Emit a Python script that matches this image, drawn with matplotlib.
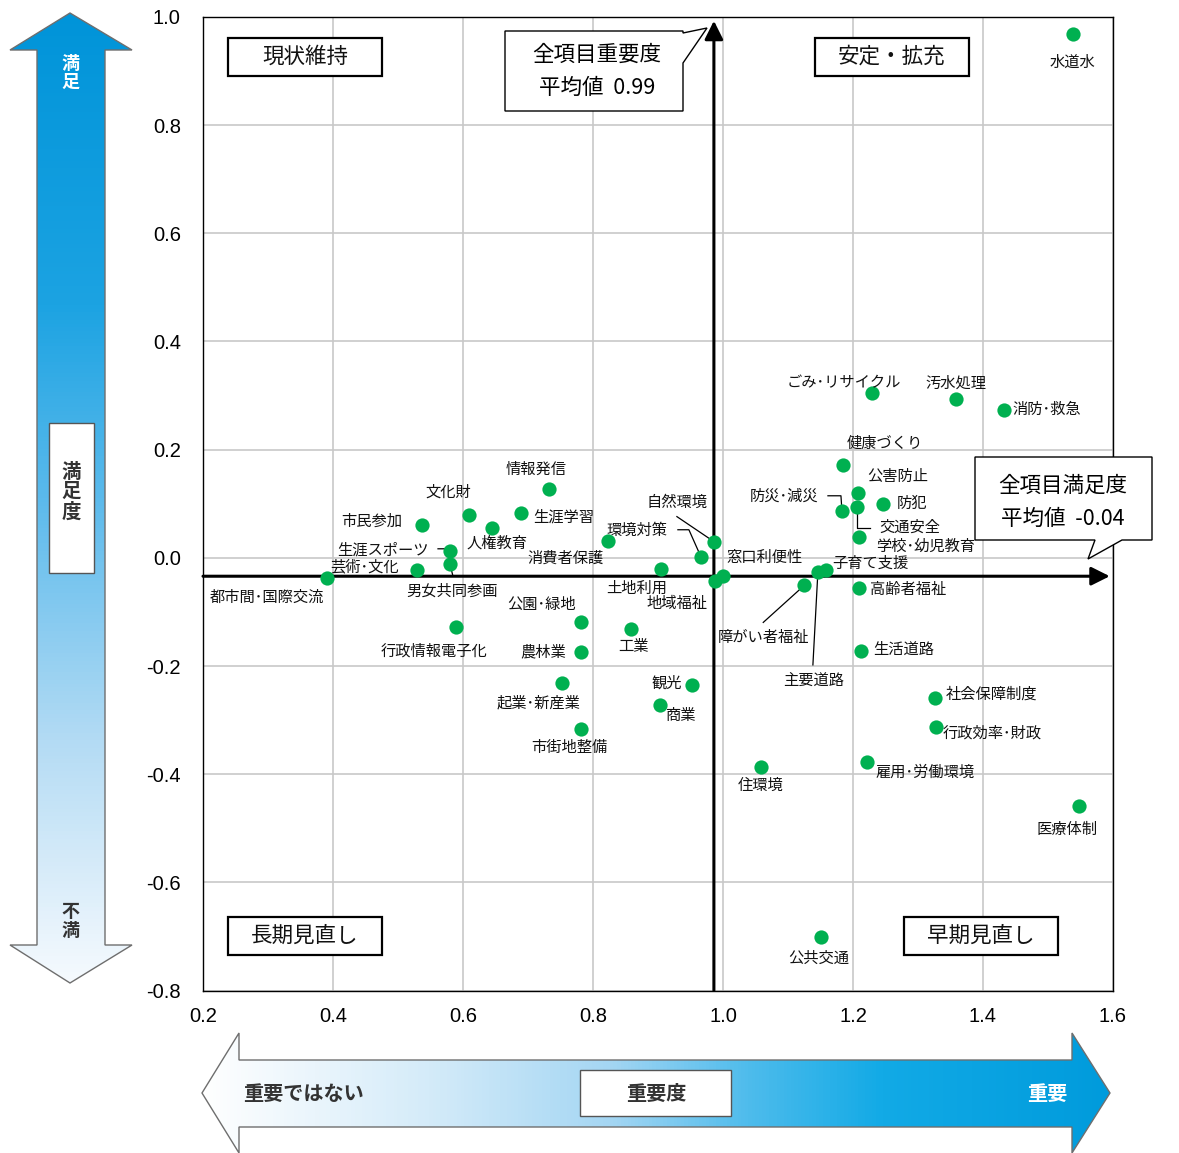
import numpy as np
import matplotlib.pyplot as plt
from matplotlib.patches import Polygon, Rectangle
from matplotlib.colors import LinearSegmentedColormap

plt.rcParams['font.family'] = ['Noto Sans CJK JP', 'DejaVu Sans']

# data: importance (x) and satisfaction (y) per item
names = ['水道水', 'ごみ･リサイクル', '汚水処理', '消防･救急', '健康づくり', '公害防止', '防犯',
         '防災･減災', '交通安全', '学校･幼児教育', '窓口利便性', '子育て支援', '主要道路',
         '障がい者福祉', '高齢者福祉', '生活道路', '自然環境', '環境対策', '土地利用', '地域福祉',
         '工業', '消費者保護', '情報発信', '文化財', '生涯学習', '人権教育', '市民参加',
         '生涯スポーツ', '男女共同参画', '芸術･文化', '都市間･国際交流', '公園･緑地',
         '行政情報電子化', '農林業', '観光', '商業', '起業･新産業', '市街地整備', '住環境',
         '雇用･労働環境', '社会保障制度', '行政効率･財政', '医療体制', '公共交通']
importance = [1.538, 1.229, 1.358, 1.433, 1.185, 1.208, 1.246, 1.183, 1.206, 1.210, 1.000,
              1.158, 1.146, 1.125, 1.209, 1.212, 0.986, 0.966, 0.904, 0.988, 0.858, 0.823,
              0.733, 0.609, 0.690, 0.645, 0.537, 0.580, 0.580, 0.529, 0.390, 0.781, 0.589,
              0.782, 0.952, 0.903, 0.752, 0.781, 1.059, 1.221, 1.326, 1.328, 1.548, 1.151]
satisfaction = [0.969, 0.304, 0.293, 0.274, 0.172, 0.119, 0.100, 0.087, 0.094, 0.038, -0.033,
                -0.023, -0.026, -0.051, -0.055, -0.172, 0.030, 0.002, -0.020, -0.042, -0.132,
                0.031, 0.127, 0.079, 0.083, 0.055, 0.060, 0.013, -0.012, -0.022, -0.037,
                -0.119, -0.127, -0.175, -0.236, -0.273, -0.231, -0.316, -0.387, -0.378,
                -0.260, -0.313, -0.459, -0.701]
mean_imp, mean_imp_label = 0.986, '0.99'
mean_sat, mean_sat_label = -0.034, '-0.04'
xticks = [0.2, 0.4, 0.6, 0.8, 1.0, 1.2, 1.4, 1.6]
yticks = [-0.8, -0.6, -0.4, -0.2, 0.0, 0.2, 0.4, 0.6, 0.8, 1.0]

# label placement: (dx, dy) pixels from the point (dy downwards), alignment
label_pos = {
    '水道水': (0, 29, 'center'), 'ごみ･リサイクル': (-28, -11, 'center'),
    '汚水処理': (0, -16, 'center'), '消防･救急': (8, 0, 'left'),
    '健康づくり': (42, -21, 'center'), '公害防止': (40, -17, 'center'),
    '防犯': (14, 0, 'left'), '防災･減災': (-24, -15, 'right'),
    '交通安全': (22, 20, 'left'), '学校･幼児教育': (66, 9, 'center'),
    '窓口利便性': (42, -18, 'center'), '子育て支援': (45, -7, 'center'),
    '主要道路': (-4, 108, 'center'), '障がい者福祉': (-41, 52, 'center'),
    '高齢者福祉': (11, 2, 'left'), '生活道路': (12, -2, 'left'),
    '自然環境': (-37, -39, 'center'), '環境対策': (-64, -26, 'center'),
    '土地利用': (-24, 20, 'center'), '地域福祉': (-38, 23, 'center'),
    '工業': (3, 17, 'center'), '消費者保護': (-42, 17, 'center'),
    '情報発信': (-13, -20, 'center'), '文化財': (-21, -23, 'center'),
    '生涯学習': (12, 4, 'left'), '人権教育': (5, 15, 'center'),
    '市民参加': (-20, -4, 'right'), '生涯スポーツ': (-21, -1, 'right'),
    '男女共同参画': (2, 27, 'center'), '芸術･文化': (-18, -3, 'right'),
    '都市間･国際交流': (-60, 19, 'center'), '公園･緑地': (-39, -18, 'center'),
    '行政情報電子化': (-22, 25, 'center'), '農林業': (-15, -1, 'right'),
    '観光': (-25, -2, 'center'), '商業': (21, 10, 'center'),
    '起業･新産業': (-23, 20, 'center'), '市街地整備': (-11, 19, 'center'),
    '住環境': (-1, 18, 'center'), '雇用･労働環境': (9, 10, 'left'),
    '社会保障制度': (11, -4, 'left'), '行政効率･財政': (6, 6, 'left'),
    '医療体制': (-12, 23, 'center'), '公共交通': (-2, 21, 'center'),
}
# leader lines: pixel offsets from the point (dy downwards)
leaders = {
    '防災･減災': [(-14, -15), (-1, -15), (0, 0)],
    '交通安全': [(0, 0), (0, 21), (13, 21)],
    '生涯スポーツ': [(-12, -2), (-2, -2), (0, 0)],
    '男女共同参画': [(0, 0), (3, 12)],
    '自然環境': [(-37, -25), (0, 0)],
    '環境対策': [(-23, -27), (-12, -27), (0, 0)],
    '障がい者福祉': [(-41, 37), (0, 0)],
    '主要道路': [(0, 0), (-5, 93)],
}

W, H = 1179, 1153
fig = plt.figure(figsize=(W / 100, H / 100), dpi=100)
ax = fig.add_axes([203 / W, 1 - 990.5 / H, 910 / W, (990.5 - 17) / H])
ax.set_xlim(0.2, 1.6)
ax.set_ylim(-0.8, 1.0)
ax.set_xticks(xticks)
ax.set_xticklabels([f'{v:.1f}' for v in xticks], fontfamily='Liberation Sans', fontsize=14.5)
ax.set_yticks(yticks)
ax.set_yticklabels([f'{v:.1f}' for v in yticks], fontfamily='Liberation Sans', fontsize=14.5)
ax.tick_params(axis='x', length=0, pad=12)
ax.tick_params(axis='y', length=0, pad=16)
ax.grid(color='#c8c8c8', lw=1.2, zorder=0)
ax.set_axisbelow(True)
for s in ax.spines.values():
    s.set_color('black')
    s.set_linewidth(1.0)

# mean arrows
ax.annotate('', xy=(1.595, mean_sat), xytext=(0.2, mean_sat),
            arrowprops=dict(arrowstyle='-|>', lw=2.2, color='black', mutation_scale=28,
                            shrinkA=0, shrinkB=0), zorder=2)
ax.annotate('', xy=(mean_imp, 0.993), xytext=(mean_imp, -0.8),
            arrowprops=dict(arrowstyle='-|>', lw=2.2, color='black', mutation_scale=28,
                            shrinkA=0, shrinkB=0), zorder=2)

ax.scatter(importance, satisfaction, s=105, color='#00b050', zorder=4, linewidths=0)

for n, x, y in zip(names, importance, satisfaction):
    dx, dy, ha = label_pos[n]
    ax.annotate(n, (x, y), xytext=(dx, -dy), textcoords='offset pixels',
                ha=ha, va='center', fontsize=11, color='#111111', zorder=5)

inv = ax.transData.inverted()
for n, pts in leaders.items():
    i = names.index(n)
    px, py = ax.transData.transform((importance[i], satisfaction[i]))
    xy = inv.transform([(px + dx, py - dy) for dx, dy in pts])
    ax.plot(xy[:, 0], xy[:, 1], color='black', lw=0.9, zorder=3)

# overlay in pixel coordinates for the decorations
ov = fig.add_axes([0, 0, 1, 1], zorder=5)
ov.set_xlim(0, W)
ov.set_ylim(H, 0)
ov.axis('off')
ov.patch.set_alpha(0)

# left vertical gradient arrow
cm_v = LinearSegmentedColormap.from_list('v', [(0, '#0094d9'), (0.3, '#1ca3e2'), (0.5, '#5bbaec'),
                                                (0.75, '#b3dbf4'), (1, '#f6fafe')])
varrow = Polygon([(70, 13), (132, 50), (105, 50), (105, 945), (132, 945), (70, 983),
                  (10, 945), (37, 945), (37, 50), (10, 50)], closed=True,
                 facecolor='none', edgecolor='#6e6e6e', lw=1.0, zorder=3)
ov.add_patch(varrow)
im = ov.imshow(cm_v(np.linspace(0, 1, 256))[:, None, :3], extent=[10, 132, 983, 13],
               aspect='auto', zorder=2)
im.set_clip_path(varrow)
ov.text(70, 73, '満\n足', ha='center', va='center', fontsize=13, color='white',
        fontweight='bold', linespacing=1.0)
ov.add_patch(Rectangle((49, 423), 45, 150, facecolor='white', edgecolor='#555555', lw=1.0, zorder=3))
ov.text(71.5, 492, '満\n足\n度', ha='center', va='center', fontsize=14, color='#333333',
        fontweight='bold', linespacing=1.05, zorder=4)
ov.text(70, 921, '不\n満', ha='center', va='center', fontsize=13, color='#333333',
        fontweight='bold', linespacing=1.0)

# bottom horizontal gradient arrow
cm_h = LinearSegmentedColormap.from_list('h', [(0, '#ffffff'), (0.25, '#d4ebf9'), (0.45, '#a4d6f3'),
                                                (0.6, '#4fbcec'), (0.75, '#12aae6'), (1, '#009bdc')])
harrow = Polygon([(202, 1093), (239, 1033), (239, 1060), (1072, 1060), (1072, 1033),
                  (1110, 1093), (1072, 1153), (1072, 1127), (239, 1127), (239, 1153)],
                 closed=True, facecolor='none', edgecolor='#6e6e6e', lw=1.0, zorder=3)
ov.add_patch(harrow)
im2 = ov.imshow(cm_h(np.linspace(0, 1, 256))[None, :, :3], extent=[202, 1110, 1153, 1033],
                aspect='auto', zorder=2)
im2.set_clip_path(harrow)
ov.text(303, 1093, '重要ではない', ha='center', va='center', fontsize=14.5, color='#333333',
        fontweight='bold')
ov.add_patch(Rectangle((580, 1070), 151, 46, facecolor='white', edgecolor='#555555', lw=1.0, zorder=3))
ov.text(656, 1093, '重要度', ha='center', va='center', fontsize=14.5, color='#333333',
        fontweight='bold', zorder=4)
ov.text(1047, 1093, '重要', ha='center', va='center', fontsize=14.5, color='white',
        fontweight='bold')

ov.set_xlim(0, W)
ov.set_ylim(H, 0)

# quadrant labels
for cx, cy, t in [(305, 57, '現状維持'), (892, 57, '安定・拡充'),
                  (305, 936, '長期見直し'), (981, 936, '早期見直し')]:
    ov.add_patch(Rectangle((cx - 77, cy - 19), 154, 38, facecolor='white',
                           edgecolor='black', lw=1.6, zorder=3))
    ov.text(cx, cy, t, ha='center', va='center', fontsize=15.5, color='#111111', zorder=4)

# callouts for the averages
ov.add_patch(Polygon([(505, 31), (683, 31), (683, 33), (707, 28), (683, 63), (683, 111),
                      (505, 111)], closed=True, facecolor='white', edgecolor='black',
                     lw=1.0, zorder=3))
ov.text(597, 55, '全項目重要度', ha='center', va='center', fontsize=15.5, zorder=4)
ov.text(597, 88, f'平均値  {mean_imp_label}', ha='center', va='center', fontsize=15.5, zorder=4)

ov.add_patch(Polygon([(975, 457), (1152, 457), (1152, 540), (1122, 540), (1088, 559),
                      (1095, 540), (975, 540)], closed=True, facecolor='white',
                     edgecolor='black', lw=1.0, zorder=3))
ov.text(1063, 486, '全項目満足度', ha='center', va='center', fontsize=15.5, zorder=4)
ov.text(1063, 519, f'平均値  {mean_sat_label}', ha='center', va='center', fontsize=15.5, zorder=4)

fig.savefig('out.png', dpi=100)
